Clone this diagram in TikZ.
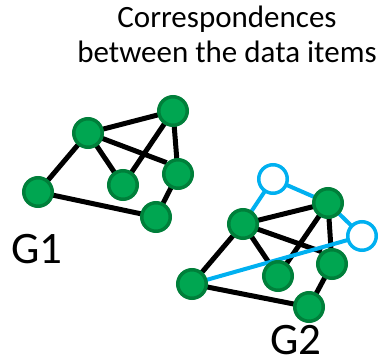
\documentclass[tikz,border=0pt]{standalone}
\usepackage{fontspec}
\setmainfont{Carlito}
\usepackage{xcolor}
\usepackage{tikz}
\usetikzlibrary{positioning, backgrounds}
\definecolor{itemgreen}{HTML}{00A651}
\definecolor{itemrim}{HTML}{007F3A}
\definecolor{matchblue}{HTML}{00B0F0}

\begin{document}
\begin{tikzpicture}[
  x=1pt, y=-1pt,
  item/.style={
    circle, draw=itemrim, line width=3.5pt, fill=itemgreen,
    minimum size=28.5pt, inner sep=0pt
  },
  ghost/.style={
    circle, draw=matchblue, line width=3.5pt, fill=white,
    minimum size=28.5pt, inner sep=0pt
  },
  link/.style={line width=5pt, color=black},
  match/.style={line width=4pt, color=matchblue},
  glabel/.style={font=\fontsize{45}{50}\selectfont, anchor=base,
    inner sep=0pt, text depth=0pt},
]
\useasboundingbox (0,0) rectangle (386,361);

\node[align=center, anchor=base, font=\fontsize{31}{35}\selectfont]
  (title) at (227,63) {Correspondences\\between the data items};

% first graph
\node[item] (a1) at (38,192) {};
\node[item] (b1) at (88,133) {};
\node[item] (c1) at (173,111) {};
\node[item] (d1) at (123,185) {};
\node[item] (e1) at (178,174) {};
\node[item] (f1) at (156,217) {};

% second graph
\node[item] (a2) at (192,284) {};
\node[item] (b2) at (243,224) {};
\node[item] (c2) at (328,203) {};
\node[item] (d2) at (278,276) {};
\node[item] (e2) at (332,264) {};
\node[item] (f2) at (309,307) {};
\node[ghost] (w1) at (273,179) {};
\node[ghost] (w2) at (362,236) {};

\node[glabel] (g1) at (37,263) {G1};
\node[glabel] (g2) at (296,354) {G2};

% edges behind the nodes
\begin{scope}[on background layer]
\draw[link] (a1.center) -- (b1.center) -- (c1.center) -- (e1.center) -- (f1.center) -- (a1.center);
\draw[link] (b1.center) -- (d1.center) -- (c1.center);
\draw[link] (b1.center) -- (e1.135);
\draw[link] (a2.center) -- (b2.center) -- (c2.center) -- (e2.center) -- (f2.center) -- (a2.center);
\draw[link] (b2.center) -- (d2.center) -- (c2.center);
\draw[link] (b2.center) -- (e2.130);
\draw[match] (b2.center) -- (w1.center) -- (c2.center) -- (w2.center) -- (a2.center);
\end{scope}
\end{tikzpicture}
\end{document}
